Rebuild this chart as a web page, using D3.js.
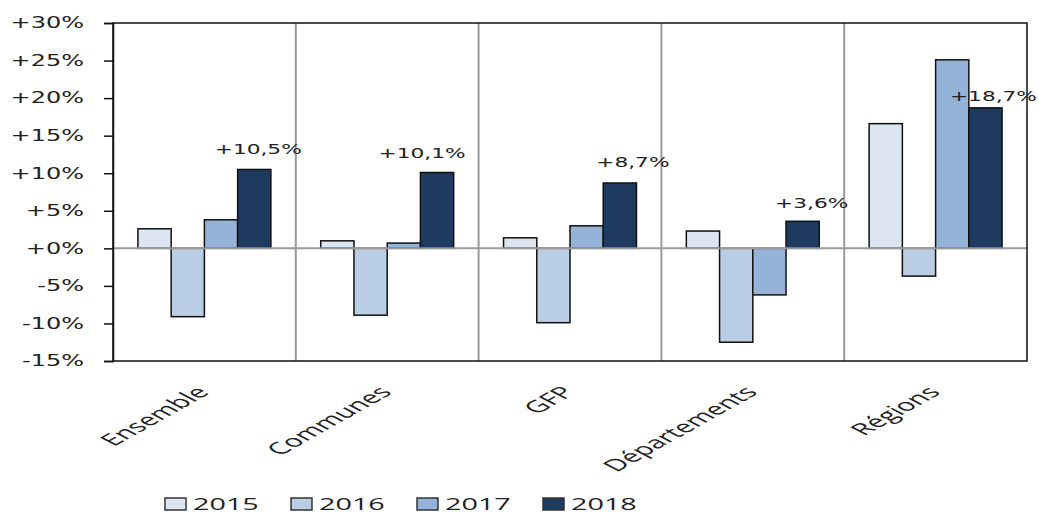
<!DOCTYPE html>
<html><head><meta charset="utf-8">
<script src="https://cdn.jsdelivr.net/npm/d3@7"></script>
<style>body{margin:0;background:#fff}svg{display:block}</style>
</head><body>
<svg id="c" width="1039" height="514"></svg>
<script>
const categories = ["Ensemble","Communes","GFP","Départements","Régions"];
const years = ["2015","2016","2017","2018"];
const v2015 = [2.6, 1.0, 1.4, 2.3, 16.6];
const v2016 = [-9.1, -8.9, -9.9, -12.5, -3.7];
const v2017 = [3.8, 0.7, 3.0, -6.2, 25.1];
const v2018 = [10.5, 10.1, 8.7, 3.6, 18.7];
const labels2018 = ["+10,5%","+10,1%","+8,7%","+3,6%","+18,7%"];
const yTicks = [30,25,20,15,10,5,0,-5,-10,-15];
const colors = ["#dce6f2","#b9cde5","#95b3d7","#1f3a5f"];
const series = [v2015, v2016, v2017, v2018];

// label placement tweaks (style, not data)
const labelDx = [4, -15, 13, 9, 8];
const labelDy = [15, 14, 16, 13, 7];

const svg = d3.select("#c");
const L = 113, R = 1027, T = 23, B = 361;
const x = d3.scaleBand().domain(categories).range([L, R]);
const xi = d3.scaleBand().domain(years).range([0, x.bandwidth()]).paddingOuter(0.75).paddingInner(0);
const y = d3.scaleLinear().domain([-15, 30]).range([B, T]);

// vertical separators
svg.append("g").selectAll("line").data(categories.slice(1)).join("line")
  .attr("x1", d => x(d)).attr("x2", d => x(d)).attr("y1", T).attr("y2", B)
  .attr("stroke", "#9a9a9a").attr("stroke-width", 2);

// bars
const g = svg.append("g");
series.forEach((vals, si) => {
  g.selectAll(null).data(vals).join("rect")
    .attr("x", (d, i) => x(categories[i]) + xi(years[si]))
    .attr("width", xi.bandwidth())
    .attr("y", d => y(Math.max(0, d)))
    .attr("height", d => Math.abs(y(d) - y(0)))
    .attr("fill", colors[si]).attr("stroke", "#111").attr("stroke-width", 1.5);
});

// zero line
svg.append("line").attr("x1", L).attr("x2", R).attr("y1", y(0)).attr("y2", y(0))
  .attr("stroke", "#9a9a9a").attr("stroke-width", 2);

// frame
svg.append("rect").attr("x", L).attr("y", T).attr("width", R - L).attr("height", B - T)
  .attr("fill", "none").attr("stroke", "#111").attr("stroke-width", 1.5);

// y axis
const SY = 1.6;
const yAxis = d3.axisLeft(y).tickValues(yTicks).tickSize(9)
  .tickFormat(d => (d >= 0 ? "+" : "") + d + "%");
const ya = svg.append("g").attr("transform", `translate(${L},0)`).call(yAxis);
ya.select(".domain").attr("stroke", "#111").attr("stroke-width", 1.5);
ya.selectAll(".tick line").attr("stroke", "#111").attr("stroke-width", 1.5);
ya.selectAll("text").attr("font-family", "DejaVu Sans, Verdana, sans-serif")
  .attr("font-size", 15).attr("fill", "#222")
  .attr("x", -29 / SY).attr("transform", `scale(${SY},1)`);

// value labels
const SV = 1.55;
svg.append("g").selectAll("text").data(v2018).join("text")
  .attr("transform", (d, i) => `translate(${x(categories[i]) + xi("2018") + xi.bandwidth() / 2 + labelDx[i]},${y(d) - labelDy[i]}) scale(${SV},1)`)
  .attr("text-anchor", "middle")
  .attr("font-family", "DejaVu Sans, Verdana, sans-serif").attr("font-size", 14).attr("fill", "#222")
  .text((d, i) => labels2018[i]);

// category labels
const SC = 1.85;
svg.append("g").selectAll("text").data(categories).join("text")
  .attr("transform", d => `translate(${x(d) + x.bandwidth() / 2 + 6},${B + 32}) scale(${SC},1) rotate(-46)`)
  .attr("text-anchor", "end")
  .attr("font-family", "Open Sans, Liberation Sans, sans-serif").attr("font-size", 16.5).attr("fill", "#222")
  .text(d => d);

// legend
const SL = 1.8;
const lg = svg.append("g").selectAll("g").data(years).join("g")
  .attr("transform", (d, i) => `translate(${165 + i * 126},498)`);
lg.append("rect").attr("width", 21).attr("height", 12)
  .attr("fill", (d, i) => colors[i]).attr("stroke", "#333").attr("stroke-width", 1.5);
lg.append("text").attr("transform", `translate(28,12) scale(${SL},1)`)
  .attr("font-family", "Open Sans, Liberation Sans, sans-serif").attr("font-size", 16).attr("fill", "#222")
  .text(d => d);
</script>
</body></html>
